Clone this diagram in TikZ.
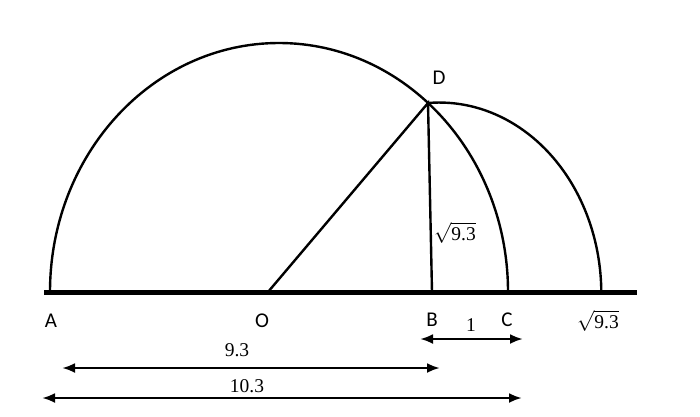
\documentclass[tikz,border=0pt]{standalone}
\usepackage{fontspec}
\setmainfont{Liberation Serif}
\newfontfamily\ptfont{Carlito}
\usetikzlibrary{arrows.meta}
\tikzstyle{curve} = [draw, line width=2.4pt]
\tikzstyle{dim} = [draw, line width=2.6pt,
{Latex[length=13pt,width=10pt]}-{Latex[length=13pt,width=10pt]}]

\begin{document}
\begin{tikzpicture}[x=1pt, y=1pt,
	pt/.style={font=\ptfont\fontsize{21}{24}\selectfont, inner sep=0pt},
	num/.style={font=\fontsize{19.5}{22}\selectfont, inner sep=0pt}]
	\useasboundingbox (0,0) rectangle (700,416);
	%% points
	\coordinate (L) at (44,124);
	\coordinate (R) at (637,124);
	\coordinate (A) at (50,124);
	\coordinate (O) at (268,124);
	\coordinate (B) at (432,124);
	\coordinate (C) at (508,124);
	\coordinate (E) at (602,124);
	\coordinate (D) at (428,313);
	%% base line and arcs
	\path [draw, line width=5pt] (L) -- (R);
	\path [curve] (A) arc[start angle=180, end angle=0, x radius=229pt, y radius=249pt];
	\path [curve] (D) arc[start angle=94, end angle=0, x radius=162pt, y radius=191pt];
	\path [curve] (O) -- (D) -- (B);
	%% labels
	\node [pt] (labA) at (51,95) {A};
	\node [pt] (labO) at (262,95) {O};
	\node [pt] (labB) at (432,96) {B};
	\node [pt] (labC) at (507,96) {C};
	\node [pt] (labD) at (439,338) {D};
	\node [num] (one) at (471,91) {1};
	\node [num] (rootE) at (598,95) {$\sqrt{\mbox{9.3}}$};
	\node [num] (rootBD) at (455,183) {$\sqrt{\mbox{9.3}}$};
	\node [num] (lenAB) at (237,66) {9.3};
	\node [num] (lenAC) at (247,30) {10.3};
	%% Arrows
	\coordinate (d1) at (420,77);
	\coordinate (d2) at (523,77);
	\coordinate (d3) at (62,48);
	\coordinate (d4) at (440,48);
	\coordinate (d5) at (42,18);
	\coordinate (d6) at (522,18);
	\path [dim] (d1) -- (d2);
	\path [dim] (d3) -- (d4);
	\path [dim] (d5) -- (d6);
\end{tikzpicture}
\end{document}
